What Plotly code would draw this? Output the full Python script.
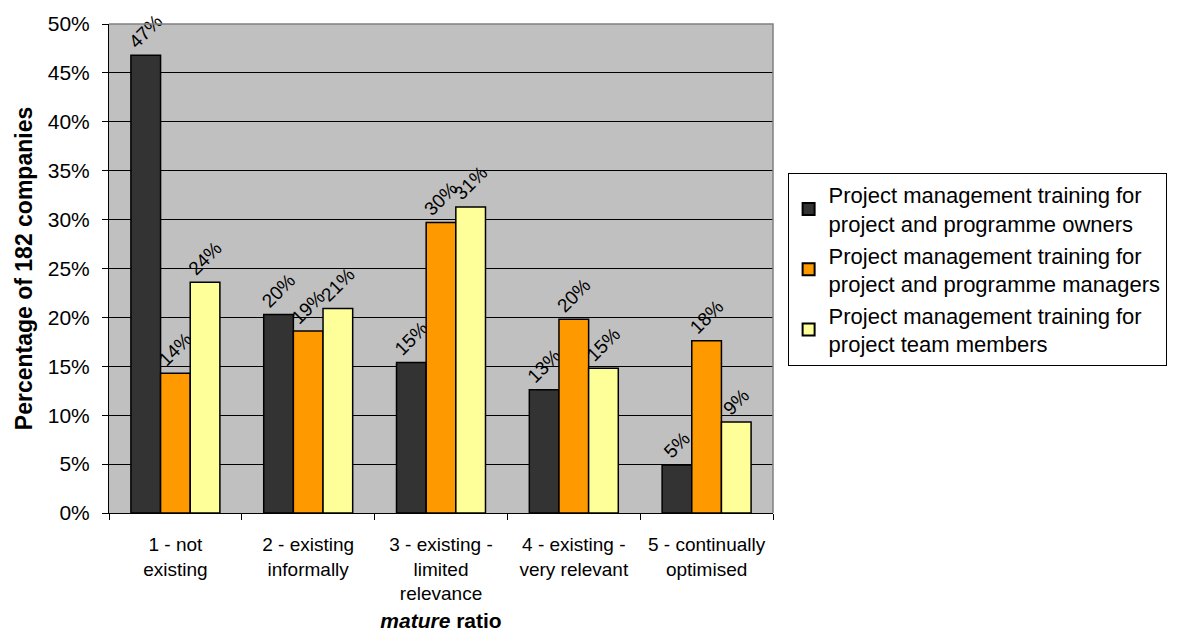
import plotly.graph_objects as go

categories = ["1 - not<br>existing", "2 - existing<br>informally", "3 - existing -<br>limited<br>relevance",
              "4 - existing -<br>very relevant", "5 - continually<br>optimised"]
owners = [46.8, 20.3, 15.4, 12.6, 4.9]
managers = [14.3, 18.6, 29.7, 19.8, 17.6]
team = [23.6, 20.9, 31.3, 14.8, 9.3]
series_names = ["Project management training for<br>project and programme owners",
                "Project management training for<br>project and programme managers",
                "Project management training for<br>project team members"]
colors = ["#333333", "#FF9900", "#FFFF99"]
y_ticks = [0, 5, 10, 15, 20, 25, 30, 35, 40, 45, 50]

fig = go.Figure()
for name, vals, col in zip(series_names, [owners, managers, team], colors):
    fig.add_trace(go.Bar(
        x=categories, y=vals, name=name,
        marker=dict(color=col, line=dict(color="#000000", width=1.5)),
        text=[f"{round(v):d}%" for v in vals],
        textposition="outside", textangle=-45, constraintext="none",
        textfont=dict(family="Liberation Sans, Arial", size=19, color="#000000"),
        cliponaxis=False,
    ))

fig.update_layout(
    width=1179, height=642,
    margin=dict(l=109, r=401, t=20, b=129),
    paper_bgcolor="#FFFFFF", plot_bgcolor="#C0C0C0",
    barmode="group", bargap=0.33, bargroupgap=0,
    font=dict(family="Liberation Sans, Arial", color="#000000"),
    showlegend=True,
    legend=dict(x=1.022, xanchor="left", y=0.498, yanchor="middle",
                bgcolor="#FFFFFF", bordercolor="#000000", borderwidth=1,
                font=dict(size=22, color="#000000"), tracegroupgap=0,
                itemwidth=30, itemsizing="constant"),
    xaxis=dict(
        showline=True, linecolor="#000000", linewidth=1,
        ticks="outside", ticklen=6, tickcolor="#000000", tickson="boundaries",
        tickfont=dict(size=19), ticklabelstandoff=14,
        title=dict(text="<b><i>mature</i> ratio</b>", font=dict(size=21), standoff=10),
        showgrid=False,
    ),
    yaxis=dict(
        range=[0, 50], tickvals=y_ticks, ticktext=[f"{v}%" for v in y_ticks],
        showline=True, linecolor="#000000", linewidth=1,
        ticks="outside", ticklen=6, tickcolor="#000000",
        tickfont=dict(size=21), ticklabelstandoff=8,
        showgrid=True, gridcolor="#000000", gridwidth=1,
        zeroline=False,
        title=dict(text="<b>Percentage of 182 companies</b>", font=dict(size=23), standoff=8),
    ),
    shapes=[dict(type="path", xref="paper", yref="paper",
                 path="M 0,1 L 1,1 L 1,0", line=dict(color="#808080", width=1.5),
                 layer="above")],
)

fig.write_html("out.html")
